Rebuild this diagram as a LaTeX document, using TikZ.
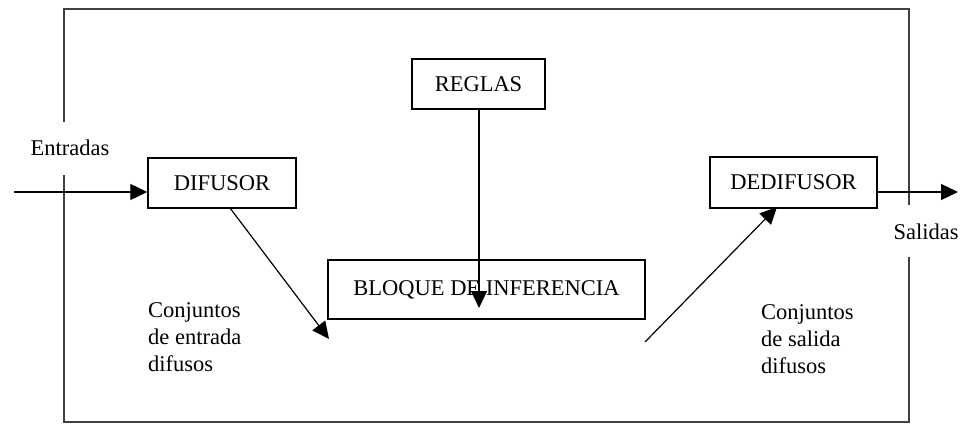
\documentclass[tikz,border=0pt]{standalone}
\usepackage{fontspec}
\setmainfont{Liberation Serif}
\usetikzlibrary{arrows.meta}
\begin{document}
\begin{tikzpicture}[x=1pt,y=-1pt,
  every node/.style={font=\fontsize{22.5}{27}\selectfont, inner sep=0pt},
  block/.style={draw, line width=1.4pt, minimum width=#1, minimum height=50pt},
  frame/.style={draw=black!75, line width=1.8pt},
  flow/.style={line width=1.2pt, -{Triangle[length=17pt,width=16pt]}},
  note/.style={align=left, anchor=north west, font=\fontsize{22.5}{27}\selectfont}]
\useasboundingbox (0,0) rectangle (963,423);

% outer frame, open where the input and output lines pass
\draw[frame] (64,122) -- (64,9) -- (909,9) -- (909,205);
\draw[frame] (64,175) -- (64,422) -- (909,422) -- (909,257);

% blocks
\node[block=148pt] (dif) at (222,183) {DIFUSOR};
\node[block=133pt] (reg) at (478.5,84) {REGLAS};
\node[block=317pt, minimum height=59pt] (inf) at (486.5,289.5) {BLOQUE DE INFERENCIA};
\node[block=167pt, minimum height=51pt] (ded) at (793.5,182.5) {DEDIFUSOR};

% connector end points
\coordinate (in) at (14,192);
\coordinate (out) at (958,192);
\coordinate (rtip) at (479,308);
\coordinate (dstart) at (230,208);
\coordinate (dtip) at (329,339);
\coordinate (ustart) at (645,342);
\coordinate (utip) at (777,207);

% connectors
\draw[flow] (in) -- (in -| dif.west);
\draw[flow] (reg.south -| rtip) -- (rtip);
\draw[flow] (dstart) -- (dtip);
\draw[flow] (ustart) -- (utip);
\draw[flow] (ded.east |- out) -- (out);

% labels
\node (lin) at (70,148) {Entradas};
\node (lout) at (926,232) {Salidas};
\node[note] (cin) at (148,302) {Conjuntos\\de entrada\\difusos};
\node[note] (cout) at (761,304) {Conjuntos\\de salida\\difusos};
\end{tikzpicture}
\end{document}
